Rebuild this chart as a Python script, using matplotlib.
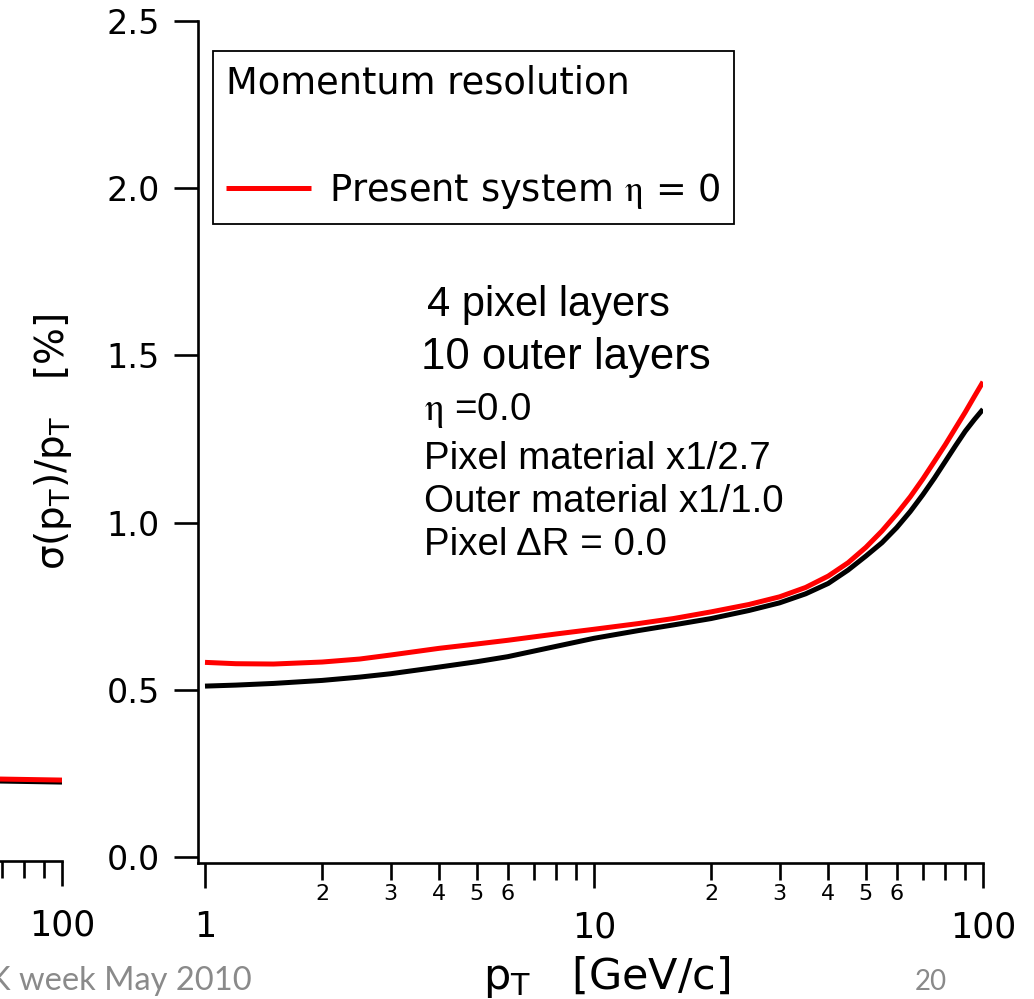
import math
import matplotlib
matplotlib.use("Agg")
import matplotlib.pyplot as plt
from matplotlib.ticker import FixedLocator, FuncFormatter, NullLocator

# ---------------------------------------------------------------- data
# transverse momentum grid [GeV/c]
pt = [1.0, 1.2, 1.5, 2.0, 2.5, 3.0, 4.0, 5.0, 6.0, 8.0, 10, 13, 16, 20, 25,
      30, 35, 40, 45, 50, 55, 60, 65, 70, 75, 80, 85, 90, 95, 100]

# sigma(pT)/pT [%] -- present system, eta = 0
res_present = [0.582, 0.578, 0.577, 0.583, 0.592, 0.604, 0.624, 0.637, 0.648,
               0.667, 0.681, 0.698, 0.713, 0.733, 0.755, 0.778, 0.806, 0.840,
               0.880, 0.926, 0.975, 1.026, 1.077, 1.130, 1.183, 1.233, 1.283,
               1.330, 1.377, 1.421]

# sigma(pT)/pT [%] -- 4 pixel + 10 outer layer configuration
res_layout = [0.511, 0.514, 0.519, 0.528, 0.538, 0.548, 0.568, 0.584, 0.599,
              0.630, 0.654, 0.677, 0.694, 0.713, 0.737, 0.760, 0.787, 0.818,
              0.858, 0.900, 0.940, 0.985, 1.033, 1.083, 1.133, 1.183, 1.230,
              1.273, 1.308, 1.339]

# tail of the neighbouring panel (high-pT end)
pt_prev = [50, 70, 100]
prev_present = [0.229, 0.227, 0.224]
prev_layout = [0.224, 0.221, 0.218]

x_major = [1, 10, 100]
x_minor = [2, 3, 4, 5, 6, 7, 8, 9, 20, 30, 40, 50, 60, 70, 80, 90]
x_minor_labelled = [2, 3, 4, 5, 6]
y_ticks = [0.0, 0.5, 1.0, 1.5, 2.0, 2.5]

legend_title = "Momentum resolution"
legend_label = r"Present system $\mathrm{\eta}$ = 0"
notes_big = ["4 pixel layers", "10 outer layers"]
notes_small = [r"$\mathrm{\eta}$ =0.0", "Pixel material x1/2.7",
               "Outer material x1/1.0", "Pixel \u0394R = 0.0"]
x_label = r"p$_\mathrm{T}$   [GeV/c]"
y_label = "\u03c3(p$_\\mathrm{T}$)/p$_\\mathrm{T}$   [%]"
footer_left = "K week May 2010"
footer_page = "20"

# ---------------------------------------------------------------- figure
W, H, DPI = 1034, 999, 100
fig = plt.figure(figsize=(W / DPI, H / DPI), dpi=DPI, facecolor="white")
plt.rcParams["font.family"] = ["DejaVu Sans"]


def px_axes(left, right, top, bottom):
    return fig.add_axes([left / W, 1 - bottom / H,
                         (right - left) / W, (bottom - top) / H])


XLIM = (10 ** (-7 / 389), 100)
YLIM = (-0.018, 2.5)
LW_AX = 1.9


def minor_fmt(v, _):
    m = round(v / 10 ** math.floor(math.log10(v) + 1e-9))
    return f"{m:d}" if m in x_minor_labelled else ""


def style_axes(ax):
    ax.set_xscale("log")
    ax.set_xlim(*XLIM)
    ax.set_ylim(*YLIM)
    ax.patch.set_alpha(0)
    for s in ("top", "right"):
        ax.spines[s].set_visible(False)
    for s in ("left", "bottom"):
        ax.spines[s].set_linewidth(LW_AX)
    ax.xaxis.set_major_locator(FixedLocator(x_major))
    ax.xaxis.set_major_formatter(FuncFormatter(lambda v, _: f"{v:g}"))
    ax.xaxis.set_minor_locator(FixedLocator(x_minor))
    ax.xaxis.set_minor_formatter(FuncFormatter(minor_fmt))
    ax.tick_params(axis="x", which="major", direction="out", length=18,
                   width=LW_AX, pad=16, labelsize=25)
    ax.tick_params(axis="x", which="minor", direction="out", length=12,
                   width=LW_AX, pad=3, labelsize=16)
    ax.yaxis.set_major_locator(FixedLocator(y_ticks))
    ax.yaxis.set_minor_locator(NullLocator())
    ax.yaxis.set_major_formatter(FuncFormatter(lambda v, _: f"{v:.1f}"))
    ax.tick_params(axis="y", which="major", direction="out", length=17.5,
                   width=LW_AX, pad=10, labelsize=24)


# neighbouring panel, mostly outside the canvas
ax_prev = px_axes(62 - 785, 62, 19, 861)
style_axes(ax_prev)
ax_prev.plot(pt_prev, prev_layout, color="black", lw=3.6, solid_capstyle="butt")
ax_prev.plot(pt_prev, prev_present, color="red", lw=3.6, solid_capstyle="butt")

# main panel
ax = px_axes(198, 983, 21, 863)
style_axes(ax)
ax.plot(pt, res_layout, color="black", lw=3.6, solid_capstyle="butt")
line_present, = ax.plot(pt, res_present, color="red", lw=3.6,
                        solid_capstyle="butt")

leg = ax.legend(handles=[line_present], labels=[legend_label],
                title=legend_title, loc="upper left",
                bbox_to_anchor=((213 - 198) / 785, (863 - 51) / 842),
                borderaxespad=0, frameon=True, fancybox=False,
                edgecolor="black", framealpha=1, prop={"size": 26.5},
                title_fontproperties={"size": 26.5}, alignment="left",
                labelspacing=1.9, handlelength=2.3, handletextpad=0.5,
                borderpad=0.36)
leg.get_frame().set_linewidth(1.3)
leg.get_texts()[0].set_math_fontfamily("stix")

ax.set_xlabel(x_label, fontsize=31)
ax.xaxis.set_label_coords((607 - 198) / 785, (863 - 954) / 842)
ax.set_ylabel(y_label, fontsize=28)
ax.yaxis.set_label_coords((74 - 198) / 785, 0.5)

# configuration notes
for txt, xl, size, yb in zip(notes_big, [427, 421], [30, 31.5], [316, 369]):
    fig.text(xl / W, 1 - yb / H, txt, fontsize=size, family="Liberation Sans",
             va="baseline", ha="left")
for txt, yb in zip(notes_small, [420, 469, 512, 555]):
    t = fig.text(424 / W, 1 - yb / H, txt, fontsize=27.7,
                 family="Liberation Sans", va="baseline", ha="left")
    t.set_math_fontfamily("stix")

# slide footer
fig.text(-11 / W, 1 - 990 / H, footer_left, fontsize=23.5, family="Lato",
         color="#8a8a8a", va="baseline", ha="left")
fig.text(931 / W, 1 - 990 / H, footer_page, fontsize=20, family="Lato",
         color="#8a8a8a", va="baseline", ha="center")

fig.savefig("out.png", dpi=DPI, facecolor="white")
